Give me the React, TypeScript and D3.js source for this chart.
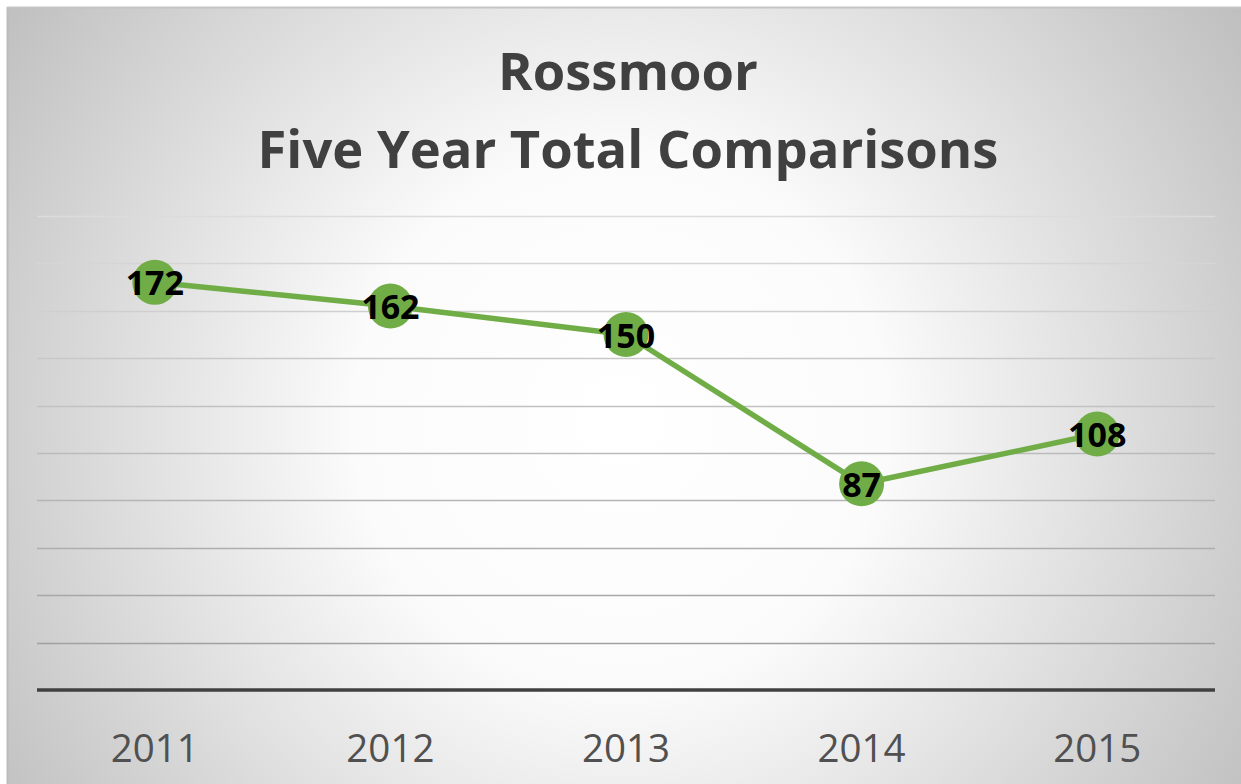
import React, { useEffect, useRef } from 'react'
import * as d3 from 'd3'

const years = ['2011', '2012', '2013', '2014', '2015']
const totals = [172, 162, 150, 87, 108]
const yTicks = [0, 20, 40, 60, 80, 100, 120, 140, 160, 180, 200]
const titleLines = ['Rossmoor', 'Five Year Total Comparisons']

const W = 1241
const H = 784
const plot = { left: 37, right: 1215, top: 216, bottom: 690 }

const App: React.FC = () => {
  const svgRef = useRef<SVGSVGElement>(null)

  useEffect(() => {
    if (!svgRef.current) return
    const svg = d3.select(svgRef.current)
    svg.selectAll('*').remove()

    const defs = svg.append('defs')
    const bg = defs.append('radialGradient')
      .attr('id', 'bg')
      .attr('gradientUnits', 'userSpaceOnUse')
      .attr('cx', 620).attr('cy', 420).attr('r', 760)
    bg.append('stop').attr('offset', '0%').attr('stop-color', '#ffffff')
    bg.append('stop').attr('offset', '35%').attr('stop-color', '#fbfbfb')
    bg.append('stop').attr('offset', '100%').attr('stop-color', '#bdbdbd')

    const gridGrad = defs.append('linearGradient')
      .attr('id', 'grid')
      .attr('gradientUnits', 'userSpaceOnUse')
      .attr('x1', 0).attr('y1', plot.top).attr('x2', 0).attr('y2', plot.bottom)
    gridGrad.append('stop').attr('offset', '0%').attr('stop-color', '#dcdcdc')
    gridGrad.append('stop').attr('offset', '100%').attr('stop-color', '#9a9a9a')

    // chart area
    svg.append('rect')
      .attr('x', 7).attr('y', 7)
      .attr('width', W).attr('height', H)
      .attr('fill', 'url(#bg)')
    svg.append('line')
      .attr('x1', 7.5).attr('x2', 7.5).attr('y1', 7).attr('y2', H)
      .attr('stroke', '#bcbcbc').attr('stroke-width', 2)
    svg.append('line')
      .attr('x1', 7).attr('x2', W).attr('y1', 7.5).attr('y2', 7.5)
      .attr('stroke', '#c4c4c4').attr('stroke-width', 2)

    const x = d3.scaleBand<string>()
      .domain(years)
      .range([plot.left, plot.right])
    const y = d3.scaleLinear()
      .domain([0, 200])
      .range([plot.bottom, plot.top])

    // title
    svg.append('text')
      .attr('x', 628)
      .attr('text-anchor', 'middle')
      .attr('font-family', '"Open Sans", sans-serif')
      .attr('font-weight', 'bold')
      .attr('font-size', 52.5)
      .attr('fill', '#404040')
      .selectAll('tspan')
      .data(titleLines)
      .enter()
      .append('tspan')
      .attr('x', 628)
      .attr('y', (d, i) => 90 + i * 78)
      .text(d => d)

    // gridlines
    svg.append('g')
      .selectAll('line')
      .data(yTicks.filter(t => t > 0))
      .enter()
      .append('line')
      .attr('x1', plot.left).attr('x2', plot.right)
      .attr('y1', d => Math.round(y(d)) + 0.5)
      .attr('y2', d => Math.round(y(d)) + 0.5)
      .attr('stroke', 'url(#grid)')
      .attr('stroke-width', 1.5)

    // axis line
    svg.append('line')
      .attr('x1', plot.left).attr('x2', plot.right)
      .attr('y1', y(0)).attr('y2', y(0))
      .attr('stroke', '#404040')
      .attr('stroke-width', 3.5)

    // category labels
    svg.append('g')
      .selectAll('text')
      .data(years)
      .enter()
      .append('text')
      .attr('x', d => x(d)! + x.bandwidth() / 2)
      .attr('y', 762)
      .attr('text-anchor', 'middle')
      .attr('font-family', '"Open Sans", sans-serif')
      .attr('font-size', 38.5)
      .attr('fill', '#505050')
      .text(d => d)

    const cx = (i: number) => x(years[i])! + x.bandwidth() / 2

    const line = d3.line<number>()
      .x((d, i) => cx(i))
      .y(d => y(d))

    svg.append('path')
      .datum(totals)
      .attr('d', line)
      .attr('fill', 'none')
      .attr('stroke', '#70ad47')
      .attr('stroke-width', 5.5)
      .attr('stroke-linejoin', 'round')

    svg.append('g')
      .selectAll('circle')
      .data(totals)
      .enter()
      .append('circle')
      .attr('cx', (d, i) => cx(i))
      .attr('cy', d => y(d))
      .attr('r', 22.5)
      .attr('fill', '#70ad47')

    svg.append('g')
      .selectAll('text')
      .data(totals)
      .enter()
      .append('text')
      .attr('x', (d, i) => cx(i))
      .attr('y', d => y(d) + 13)
      .attr('text-anchor', 'middle')
      .attr('font-family', '"Open Sans", sans-serif')
      .attr('font-weight', 'bold')
      .attr('font-size', 34)
      .attr('fill', '#000000')
      .text(d => d)
  }, [])

  return (
    <svg
      ref={svgRef}
      width={W}
      height={H}
      style={{ position: 'absolute', left: 0, top: 0, display: 'block' }}
    />
  )
}

export default App
